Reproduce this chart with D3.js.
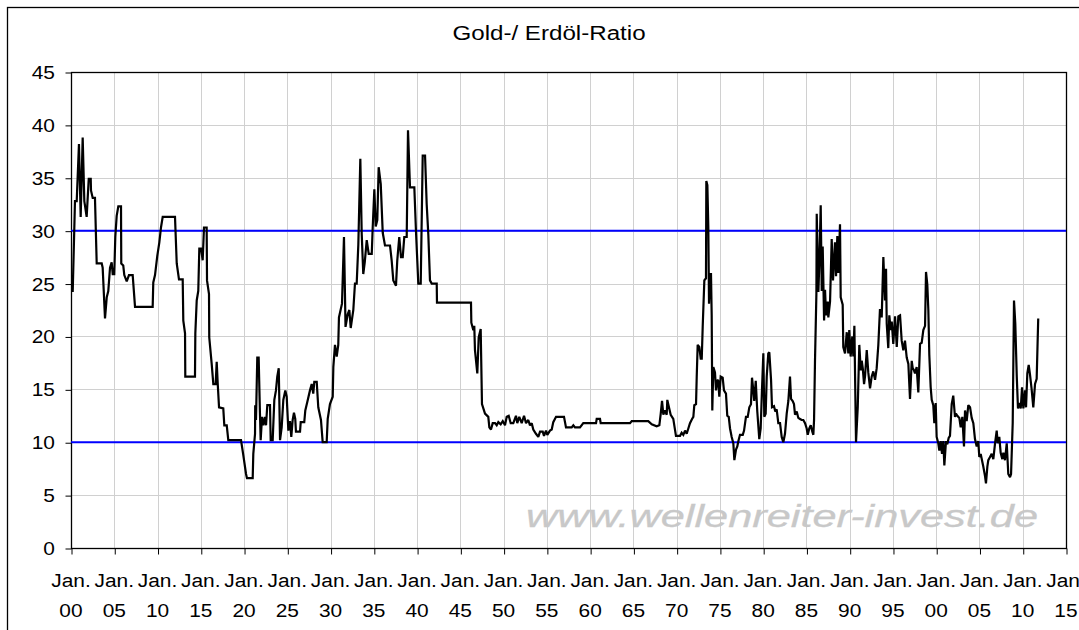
<!DOCTYPE html>
<html>
<head>
<meta charset="utf-8">
<script src="https://cdn.jsdelivr.net/npm/d3@7"></script>
<style>
html,body{margin:0;padding:0;background:#fff;}
svg{display:block;}
text{font-family:"Liberation Sans",Arial,sans-serif;}
</style>
</head>
<body>
<svg id="chart" width="1079" height="630"></svg>
<script>
// ---- Data (decimal year, ratio) ----
const years = [
1900.00,1900.20,1900.46,1900.66,1900.92,1901.12,1901.35,1901.54,1901.81,1902.05,1902.28,1902.31,1902.51,1902.77,1902.97,
1903.55,1903.66,1903.93,1904.13,1904.31,1904.51,1904.70,1904.82,1905.00,1905.12,1905.28,1905.47,1905.78,1905.81,1906.04,
1906.16,1906.44,1906.70,1907.13,1907.40,1909.44,1909.51,1909.71,1909.97,1910.21,1910.40,1910.60,1912.02,1912.22,1912.48,
1912.91,1912.98,1913.18,1913.21,1914.33,1914.37,1914.53,1914.71,1914.83,1915.03,1915.22,1915.37,1915.68,1915.72,1915.95,
1915.98,1916.26,1916.45,1916.72,1916.84,1916.96,1917.11,1917.60,1917.72,1918.00,1918.18,1919.65,1919.91,1920.23,1920.34,
1921.00,1921.07,1921.27,1921.29,1921.38,1921.53,1921.69,1921.84,1921.92,1922.08,1922.23,1922.42,1922.54,1922.69,1923.00,
1923.08,1923.31,1923.50,1923.69,1923.84,1924.01,1924.16,1924.35,1924.54,1924.77,1924.93,1925.12,1925.31,1925.46,1925.62,
1925.77,1925.92,1926.00,1926.47,1926.55,1926.96,1927.08,1927.31,1927.62,1927.82,1928.00,1928.12,1928.40,1928.58,1928.89,
1929.09,1929.55,1929.67,1929.93,1930.25,1930.32,1930.51,1930.71,1930.89,1930.97,1931.32,1931.55,1931.73,1931.98,1932.17,
1932.33,1932.63,1932.82,1933.02,1933.21,1933.44,1933.60,1933.78,1933.95,1934.18,1934.41,1934.76,1934.87,1935.06,1935.22,
1935.40,1935.56,1935.80,1936.03,1936.29,1936.87,1937.06,1937.25,1937.56,1937.71,1937.94,1938.14,1938.34,1938.52,1938.80,
1938.95,1939.18,1939.68,1939.87,1940.14,1940.42,1940.65,1940.92,1941.11,1941.30,1941.49,1941.69,1942.27,1942.30,1946.23,
1946.27,1946.50,1946.61,1946.69,1946.96,1947.12,1947.35,1947.50,1947.85,1948.23,1948.35,1948.54,1948.74,1949.01,1949.20,
1949.39,1949.66,1949.90,1950.16,1950.36,1950.59,1950.82,1951.12,1951.43,1951.58,1951.81,1952.09,1952.36,1952.59,1952.85,
1953.05,1953.25,1953.43,1953.74,1954.01,1954.21,1954.52,1954.67,1954.90,1955.05,1955.36,1955.56,1955.74,1956.06,1956.98,
1957.21,1957.87,1958.06,1958.25,1958.83,1959.21,1960.68,1960.76,1961.14,1961.22,1964.61,1964.81,1966.72,1967.12,1967.69,
1968.00,1968.16,1968.31,1968.46,1968.65,1968.85,1968.92,1969.11,1969.31,1969.61,1969.92,1970.39,1970.58,1970.77,1970.97,
1971.16,1971.35,1971.54,1971.78,1971.93,1972.04,1972.24,1972.32,1972.43,1972.62,1972.78,1972.90,1973.01,1973.20,1973.39,
1973.43,1973.55,1973.66,1973.74,1973.86,1973.97,1974.05,1974.12,1974.24,1974.43,1974.55,1974.70,1974.81,1974.93,1975.09,
1975.32,1975.47,1975.70,1975.85,1976.02,1976.17,1976.36,1976.55,1976.67,1976.86,1977.01,1977.13,1977.32,1977.64,1977.79,
1978.01,1978.21,1978.40,1978.59,1978.71,1978.86,1978.97,1979.14,1979.32,1979.55,1979.71,1979.86,1980.02,1980.13,1980.29,
1980.41,1980.59,1980.71,1980.91,1981.02,1981.25,1981.40,1981.56,1981.75,1981.95,1982.14,1982.33,1982.52,1982.72,1982.91,
1983.10,1983.22,1983.41,1983.56,1983.68,1983.88,1984.06,1984.26,1984.45,1984.64,1984.84,1985.03,1985.15,1985.33,1985.50,
1985.68,1985.80,1985.88,1985.99,1986.15,1986.19,1986.38,1986.50,1986.65,1986.77,1986.88,1987.04,1987.15,1987.27,1987.46,
1987.53,1987.73,1987.92,1988.07,1988.30,1988.42,1988.57,1988.69,1988.88,1988.96,1989.19,1989.26,1989.46,1989.66,1989.84,
1989.95,1990.11,1990.30,1990.42,1990.54,1990.73,1990.93,1991.11,1991.28,1991.39,1991.51,1991.66,1991.78,1991.97,1992.15,
1992.35,1992.54,1992.73,1992.93,1993.12,1993.31,1993.50,1993.70,1993.89,1994.08,1994.20,1994.28,1994.46,1994.58,1994.74,
1994.86,1995.04,1995.24,1995.44,1995.62,1995.82,1996.01,1996.20,1996.39,1996.59,1996.78,1996.97,1997.17,1997.28,1997.43,
1997.55,1997.74,1997.93,1998.13,1998.32,1998.51,1998.71,1998.82,1998.97,1999.09,1999.20,1999.36,1999.48,1999.66,1999.78,
1999.94,2000.05,2000.24,2000.36,2000.52,2000.67,2000.82,2000.94,2001.13,2001.28,2001.44,2001.59,2001.79,2001.97,2002.17,
2002.28,2002.44,2002.67,2002.83,2003.02,2003.21,2003.33,2003.52,2003.71,2003.91,2004.10,2004.29,2004.48,2004.68,2004.86,
2004.98,2005.14,2005.29,2005.44,2005.64,2005.75,2005.91,2006.02,2006.22,2006.41,2006.60,2006.80,2006.99,2007.11,2007.29,
2007.45,2007.64,2007.76,2007.95,2008.15,2008.33,2008.53,2008.65,2008.84,2008.99,2009.14,2009.31,2009.45,2009.61,2009.77,
2009.92,2010.07,2010.27,2010.38,2010.53,2010.69,2010.84,2011.03,2011.22,2011.42,2011.61,2011.79
];
const ratio = [
24.3,24.3,32.8,32.8,38.2,31.3,38.8,32.8,31.3,34.9,34.9,33.8,33.1,33.1,26.9,
26.9,26.5,21.7,23.7,24.3,26.5,27.0,25.9,25.9,29.4,31.4,32.3,32.3,26.9,26.7,
25.8,25.2,25.8,25.8,22.8,22.8,25.1,25.8,27.6,28.9,30.3,31.3,31.3,26.9,25.4,
25.4,21.5,20.3,16.2,16.2,20.3,23.4,24.3,28.3,28.3,27.2,30.3,30.3,25.3,24.0,
19.9,17.4,15.5,15.5,17.6,15.5,13.3,13.2,11.6,11.6,10.2,10.2,8.8,7.0,6.6,
6.6,8.9,10.8,13.5,12.1,18.0,18.0,12.7,10.2,12.4,11.6,12.4,11.6,13.5,13.5,
10.2,10.2,14.0,14.9,16.2,17.0,10.2,11.4,14.0,14.9,14.3,11.1,12.0,10.5,12.1,
12.8,12.2,11.0,11.0,11.9,11.9,13.0,13.8,14.9,15.5,14.6,15.7,15.7,13.3,12.1,
10.0,10.0,12.2,13.6,14.3,17.1,19.2,18.1,19.2,21.8,23.1,29.4,20.9,22.1,22.5,
20.8,22.5,25.0,25.0,28.7,36.8,29.7,25.9,27.0,29.1,27.8,27.8,30.3,33.9,30.4,
31.0,36.0,34.4,29.8,28.6,28.6,27.2,25.3,24.8,27.2,29.4,27.5,27.5,29.4,29.4,
39.5,34.1,34.1,30.0,25.0,25.0,37.1,37.1,32.5,29.6,25.3,25.0,25.0,23.2,23.2,
21.3,20.6,21.0,18.7,16.5,19.9,20.7,13.6,12.7,12.4,11.4,11.2,11.8,11.8,11.6,
11.9,11.7,12.0,11.6,12.4,12.5,11.8,11.8,12.5,11.8,12.4,11.8,12.5,11.8,12.1,
11.6,11.8,11.2,10.8,10.5,11.0,11.0,10.6,11.1,10.7,11.1,11.2,11.9,12.4,12.4,
11.4,11.4,11.6,11.4,11.4,11.8,11.8,12.2,12.2,11.8,11.8,12.0,12.0,11.7,11.5,
11.6,12.7,13.9,12.6,13.0,12.6,14.0,13.3,12.6,12.2,10.6,10.6,10.9,10.7,11.1,
10.8,11.3,11.8,12.2,12.4,13.5,13.6,16.2,19.2,19.0,17.9,17.9,20.9,25.3,25.5,
34.7,34.3,30.3,23.1,25.9,25.9,22.0,13.0,17.1,16.6,14.9,15.9,15.8,14.3,16.2,
16.1,14.9,14.6,12.5,12.4,11.3,10.5,9.9,8.3,9.3,9.6,10.1,10.7,10.7,11.1,
12.4,12.4,13.3,13.6,16.1,14.9,13.9,15.8,12.9,10.3,11.3,14.9,18.4,12.4,12.7,
16.2,18.4,18.5,15.9,13.3,13.4,12.9,13.1,11.8,11.8,10.5,10.0,10.8,12.7,13.9,
16.2,14.1,13.9,13.6,12.6,12.9,12.3,12.2,12.1,12.1,11.8,11.3,10.7,11.3,11.6,
11.0,10.7,12.1,17.7,24.0,31.6,24.2,27.2,32.4,24.3,28.5,21.5,24.4,22.0,23.3,
21.8,23.3,29.2,25.3,28.9,25.7,29.5,26.0,30.6,23.7,23.0,19.0,18.4,20.4,18.4,
20.6,18.1,20.0,18.1,21.0,10.0,13.3,19.2,16.8,17.7,17.0,15.5,16.3,18.7,16.6,
15.1,16.2,16.7,15.9,17.0,19.2,22.6,21.8,27.5,23.4,26.4,21.2,18.9,22.0,20.6,
21.4,19.3,21.9,19.0,21.9,22.0,19.6,18.7,19.6,18.0,17.4,14.1,17.7,17.0,16.8,
16.5,17.1,14.7,19.3,19.4,20.6,21.0,26.1,24.9,22.5,18.3,15.2,14.0,13.5,11.8,
13.7,10.5,9.9,9.2,10.1,8.9,10.1,7.8,10.1,9.8,10.4,10.6,13.6,14.4,12.4,
12.7,12.5,12.3,11.4,12.4,9.6,13.0,12.0,13.5,13.3,12.3,11.8,10.3,9.6,10.1,
8.6,8.9,8.3,7.7,6.8,6.1,7.7,8.3,8.6,8.9,8.4,9.9,11.1,9.9,10.5,
9.0,8.4,9.0,8.3,9.9,7.0,6.7,7.0,11.8,23.4,21.2,16.2,13.2,13.7,13.2,
15.2,13.2,14.9,13.3,16.5,17.3,16.4,15.0,13.3,15.5,16.0,21.7
];
const xTickYears = [1900,1905,1910,1915,1920,1925,1930,1935,1940,1945,1950,1955,1960,1965,1970,1975,1980,1985,1990,1995,2000,2005,2010,2015];
const xTickLabels = ["00","05","10","15","20","25","30","35","40","45","50","55","60","65","70","75","80","85","90","95","00","05","10","15"];
const yTicks = [0,5,10,15,20,25,30,35,40,45];
const refLevels = [10,30];
const titleText = "Gold-/ Erdöl-Ratio";
const watermark = "www.wellenreiter-invest.de";

// ---- Drawing ----
const svg = d3.select("#chart");
const W = 1079, H = 630;
const plot = {left:71, right:1066, top:72, bottom:548};
const SX = 1.1; // horizontal stretch of the reference's text

svg.append("rect").attr("width",W).attr("height",H).attr("fill","#fff");
// outer chart frame (extends past the viewport on right/bottom)
svg.append("rect").attr("x",7.5).attr("y",7.5).attr("width",1200).attr("height",800)
  .attr("fill","none").attr("stroke","#000").attr("stroke-width",1.3);

const x = d3.scaleLinear().domain([1900,2015]).range([plot.left,plot.right]);
const y = d3.scaleLinear().domain([0,45]).range([plot.bottom,plot.top]);

function stretched(sel, cx, cy, anchor, sx){
  return sel.attr("text-anchor",anchor)
    .attr("transform",`translate(${cx},${cy}) scale(${sx||SX},1)`);
}

// title
stretched(svg.append("text"),549,40,"middle",1.15)
  .attr("font-size",21).attr("fill","#000").text(titleText);

// gridlines
const grid = svg.append("g");
grid.selectAll(".gy").data(yTicks).join("line")
  .attr("x1",plot.left).attr("x2",plot.right)
  .attr("y1",d=>Math.round(y(d))+0.5).attr("y2",d=>Math.round(y(d))+0.5)
  .attr("stroke","#d0d0d0").attr("stroke-width",1);
grid.selectAll(".gx").data(xTickYears).join("line")
  .attr("y1",plot.top).attr("y2",plot.bottom)
  .attr("x1",d=>Math.round(x(d))+0.5).attr("x2",d=>Math.round(x(d))+0.5)
  .attr("stroke","#d0d0d0").attr("stroke-width",1);

// watermark
svg.append("text").attr("x",526).attr("y",527)
  .attr("font-family","DejaVu Sans, Verdana, sans-serif")
  .attr("font-style","italic").attr("font-size",31)
  .attr("textLength",512).attr("lengthAdjust","spacingAndGlyphs")
  .attr("fill","#c8c8c8").attr("stroke","#c8c8c8").attr("stroke-width",0.3)
  .text(watermark);

// plot border
svg.append("rect").attr("x",plot.left+0.5).attr("y",plot.top+0.5)
  .attr("width",plot.right-plot.left).attr("height",plot.bottom-plot.top)
  .attr("fill","none").attr("stroke","#000").attr("stroke-width",1.3);

// reference lines
svg.selectAll(".ref").data(refLevels).join("line")
  .attr("x1",plot.left).attr("x2",plot.right)
  .attr("y1",d=>y(d)).attr("y2",d=>y(d))
  .attr("stroke","#0000ff").attr("stroke-width",2);

// data line
const pts = years.map((yr,i)=>[yr,ratio[i]]);
svg.append("path").datum(pts)
  .attr("fill","none").attr("stroke","#000").attr("stroke-width",2.2)
  .attr("stroke-linejoin","miter").attr("stroke-miterlimit",2)
  .attr("d",d3.line().x(d=>x(d[0])).y(d=>y(d[1])));

// y axis (ticks via d3 axis, labels stretched like the reference)
const yAxis = d3.axisLeft(y).tickValues(yTicks).tickSize(6).tickFormat("");
const gy = svg.append("g").attr("transform",`translate(${plot.left+0.5},0.5)`).call(yAxis);
gy.select(".domain").remove();
gy.selectAll(".tick line").attr("stroke","#000");
const yl = svg.append("g");
yl.selectAll("text").data(yTicks).join("text")
  .each(function(d){ stretched(d3.select(this),55,y(d)+7,"end"); })
  .attr("font-size",19).attr("fill","#000").text(d=>d3.format("d")(d));

// x axis
const xAxis = d3.axisBottom(x).tickValues(xTickYears).tickSize(6).tickFormat("");
const gx = svg.append("g").attr("transform",`translate(0.5,${plot.bottom+0.5})`).call(xAxis);
gx.select(".domain").remove();
gx.selectAll(".tick line").attr("stroke","#000");
const xl = svg.append("g");
xl.selectAll(".jan").data(xTickYears).join("text")
  .each(function(d){ stretched(d3.select(this),x(d),587,"middle"); })
  .attr("font-size",19).text("Jan.");
xl.selectAll(".yy").data(xTickYears).join("text")
  .each(function(d){ stretched(d3.select(this),x(d),617,"middle"); })
  .attr("font-size",19).text((d,i)=>xTickLabels[i]);
</script>
</body>
</html>
